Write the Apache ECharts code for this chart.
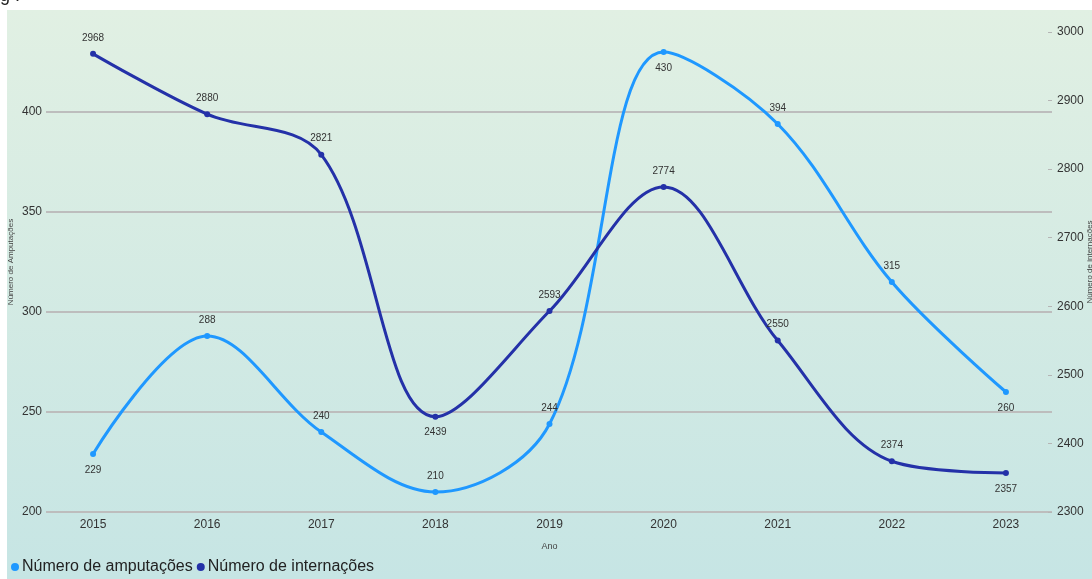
<!DOCTYPE html>
<html>
<head>
<meta charset="utf-8">
<script src="https://cdn.jsdelivr.net/npm/echarts@6/dist/echarts.min.js"></script>
<style>
  html, body { margin: 0; padding: 0; background: #ffffff; }
  #chart { width: 1092px; height: 579px; }
</style>
</head>
<body>
<div id="chart"></div>
<script>
// Annual totals
const years = ['2015', '2016', '2017', '2018', '2019', '2020', '2021', '2022', '2023'];
const amputacoes = [229, 288, 240, 210, 244, 430, 394, 315, 260];
const internacoes = [2968, 2880, 2821, 2439, 2593, 2774, 2550, 2374, 2357];

// Tick values shown on the two value axes
const amputTicks = [200, 250, 300, 350, 400];
const internTicks = [2300, 2400, 2500, 2600, 2700, 2800, 2900, 3000];

// Which points carry their value label underneath the marker
const amputBelow = [0, 5, 8];
const internBelow = [3, 8];

const font = '"Liberation Sans", Arial, sans-serif';
const lightBlue = '#1f98ff';
const navy = '#2431a8';

function withLabels(values, below) {
  return values.map((v, i) => ({
    value: v,
    label: { position: below.includes(i) ? 'bottom' : 'top' }
  }));
}

const amputScale = { min: 200, max: 450, interval: 50 };
const internScale = { min: 2300, max: 3029 };

const chart = echarts.init(document.getElementById('chart'), null, { renderer: 'canvas' });

chart.setOption({
  animation: false,
  backgroundColor: '#ffffff',
  graphic: [
    {
      type: 'rect',
      z: -10,
      shape: { x: 7, y: 10, width: 1085, height: 569 },
      style: {
        fill: new echarts.graphic.LinearGradient(0, 0, 0, 1, [
          { offset: 0, color: '#e1f0e3' },
          { offset: 1, color: '#c6e5e4' }
        ])
      },
      silent: true
    },
    {
      type: 'text',
      left: 0,
      top: -13,
      style: { text: 'g .', font: '18px "Liberation Sans", sans-serif', fill: '#222' }
    }
  ],
  // grid 0 carries the lines, grid 1 the value axes and gridlines
  grid: [
    { left: 36, right: 29, top: 12, bottom: 67, outerBoundsMode: 'none' },
    { left: 46, right: 40, top: 12, bottom: 67, outerBoundsMode: 'none' }
  ],
  legend: {
    left: 6,
    bottom: -1,
    icon: 'circle',
    itemWidth: 8,
    itemHeight: 8,
    itemGap: 4,
    textStyle: { fontSize: 16, color: '#222', fontFamily: font, padding: [0, 0, 0, -2] },
    data: ['Número de amputações', 'Número de internações']
  },
  xAxis: [
    {
      type: 'category',
      gridIndex: 0,
      data: years,
      boundaryGap: true,
      name: 'Ano',
      nameLocation: 'middle',
      nameGap: 30,
      nameTextStyle: { fontSize: 9, color: '#444', fontFamily: font },
      axisLine: { show: false },
      axisTick: { show: false },
      axisLabel: { fontSize: 12, color: '#333', fontFamily: font, margin: 7 },
      splitLine: { show: false }
    },
    {
      type: 'category',
      gridIndex: 1,
      data: years,
      show: false
    }
  ],
  yAxis: [
    Object.assign({ type: 'value', gridIndex: 0, show: false, splitLine: { show: false } }, amputScale),
    Object.assign({ type: 'value', gridIndex: 0, show: false, position: 'right', splitLine: { show: false } }, internScale),
    Object.assign({
      type: 'value',
      gridIndex: 1,
      name: 'Número de Amputações',
      nameLocation: 'middle',
      nameGap: 31,
      nameMoveOverlap: false,
      nameTextStyle: { fontSize: 8, color: '#444', fontFamily: font },
      axisLine: { show: false },
      axisTick: { show: false },
      axisLabel: {
        fontSize: 12, color: '#333', fontFamily: font, margin: 4,
        customValues: amputTicks,
        formatter: v => String(v)
      },
      splitLine: { show: true, showMaxLine: false, lineStyle: { color: '#bdbdbd', width: 2 } }
    }, amputScale),
    Object.assign({
      type: 'value',
      gridIndex: 1,
      position: 'right',
      name: 'Número de internações',
      nameLocation: 'middle',
      nameGap: 34,
      nameMoveOverlap: false,
      nameRotate: 90,
      nameTextStyle: { fontSize: 8, color: '#444', fontFamily: font },
      axisLine: { show: false },
      axisTick: { show: true, length: 4, inside: true, customValues: internTicks, lineStyle: { color: '#b5b5b5', width: 1 } },
      axisLabel: {
        fontSize: 12, color: '#333', fontFamily: font, margin: 5,
        customValues: internTicks,
        formatter: v => String(v)
      },
      splitLine: { show: false }
    }, internScale)
  ],
  series: [
    {
      name: 'Número de amputações',
      type: 'line',
      xAxisIndex: 0,
      yAxisIndex: 0,
      data: withLabels(amputacoes, amputBelow),
      smooth: 0.35,
      symbol: 'circle',
      symbolSize: 6,
      itemStyle: { color: lightBlue },
      lineStyle: { color: lightBlue, width: 3 },
      label: { show: true, fontSize: 10, color: '#333', fontFamily: font, distance: 8 },
      z: 3
    },
    {
      name: 'Número de internações',
      type: 'line',
      xAxisIndex: 0,
      yAxisIndex: 1,
      data: withLabels(internacoes, internBelow),
      smooth: 0.35,
      symbol: 'circle',
      symbolSize: 6,
      itemStyle: { color: navy },
      lineStyle: { color: navy, width: 3 },
      label: { show: true, fontSize: 10, color: '#333', fontFamily: font, distance: 8 },
      z: 4
    }
  ]
});
</script>
</body>
</html>
